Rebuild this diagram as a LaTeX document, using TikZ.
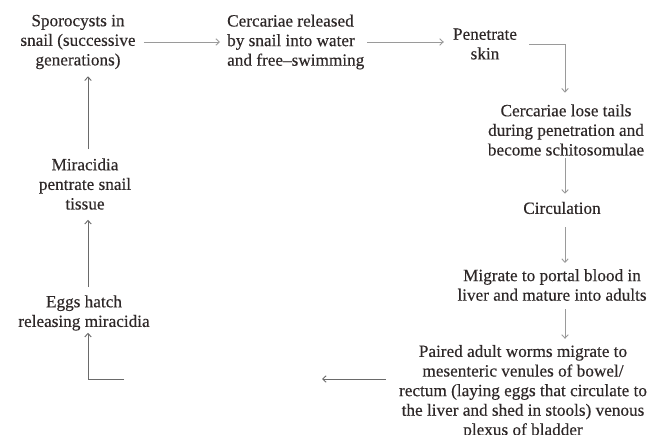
\documentclass[tikz,border=0pt]{standalone}
\usepackage{fontspec}
\setmainfont[FakeBold=0.3]{Liberation Serif}
\usetikzlibrary{arrows.meta}
\definecolor{txt}{HTML}{2E2828}
\definecolor{ln}{HTML}{9A9A9A}
\definecolor{lndark}{HTML}{6A6A6A}
\begin{document}
\begin{tikzpicture}[x=1bp,y=-1bp,
  lbl/.style={text=txt, font=\fontsize{17.2bp}{19.6bp}\selectfont, align=center, inner sep=0pt},
  arr/.style={draw=ln, line width=0.9bp, -{Straight Barb[length=3.5bp,width=6.5bp]}},
  arrdark/.style={draw=lndark, line width=0.9bp, -{Straight Barb[length=3.5bp,width=6.5bp]}}]
\useasboundingbox (0,0) rectangle (653,435);
\fill[white] (0,0) rectangle (653,435);

\node[lbl] (spor) at (78,42) {Sporocysts in\\snail (successive\\generations)};
\node[lbl, align=left, anchor=west] (cerc) at (227,42) {Cercariae released\\by snail into water\\and free–swimming};
\node[lbl] (pen) at (485,44) {Penetrate\\skin};
\node[lbl] (lose) at (566,130) {Cercariae lose tails\\during penetration and\\become schitosomulae};
\node[lbl] (circ) at (562,208) {Circulation};
\node[lbl] (migr) at (552,285) {Migrate to portal blood in\\liver and mature into adults};
\node[lbl] (paired) at (523,392) {Paired adult worms migrate to\\mesenteric venules of bowel/\\rectum (laying eggs that circulate to\\the liver and shed in stools) venous\\plexus of bladder};
\node[lbl] (eggs) at (84,313) {Eggs hatch\\releasing miracidia};
\node[lbl] (mira) at (85,184) {Miracidia\\pentrate snail\\tissue};

\coordinate (vx) at (565,0);
\coordinate (hx) at (88,0);
\coordinate (la) at (322,379);
\coordinate (lb) at (124,379);

\draw[arr, shorten <=8bp, shorten >=7bp] (spor.east) -- (spor.east -| cerc.west);
\draw[arr, shorten <=3bp, shorten >=9bp] (cerc.east) -- (cerc.east -| pen.west);
\draw[arr, shorten <=12bp, shorten >=11.5bp] (pen.east) -| (lose.north -| vx);
\draw[arr, shorten <=2.5bp, shorten >=8bp] (lose.south -| vx) -- (circ.north -| vx);
\draw[arr, shorten <=13bp, shorten >=6bp] (circ.south -| vx) -- (migr.north -| vx);
\draw[arr, shorten <=8bp, shorten >=6bp] (migr.south -| vx) -- (paired.north -| vx);
\draw[arrdark, shorten <=13bp] (paired.west |- la) -- (la);
\draw[arrdark, shorten >=2bp] (lb) -| (eggs.south -| hx);
\draw[arrdark, shorten <=8bp, shorten >=10bp] (eggs.north -| hx) -- (mira.south -| hx);
\draw[arrdark, shorten <=9bp, shorten >=7bp] (mira.north -| hx) -- (spor.south -| hx);
\end{tikzpicture}
\end{document}
